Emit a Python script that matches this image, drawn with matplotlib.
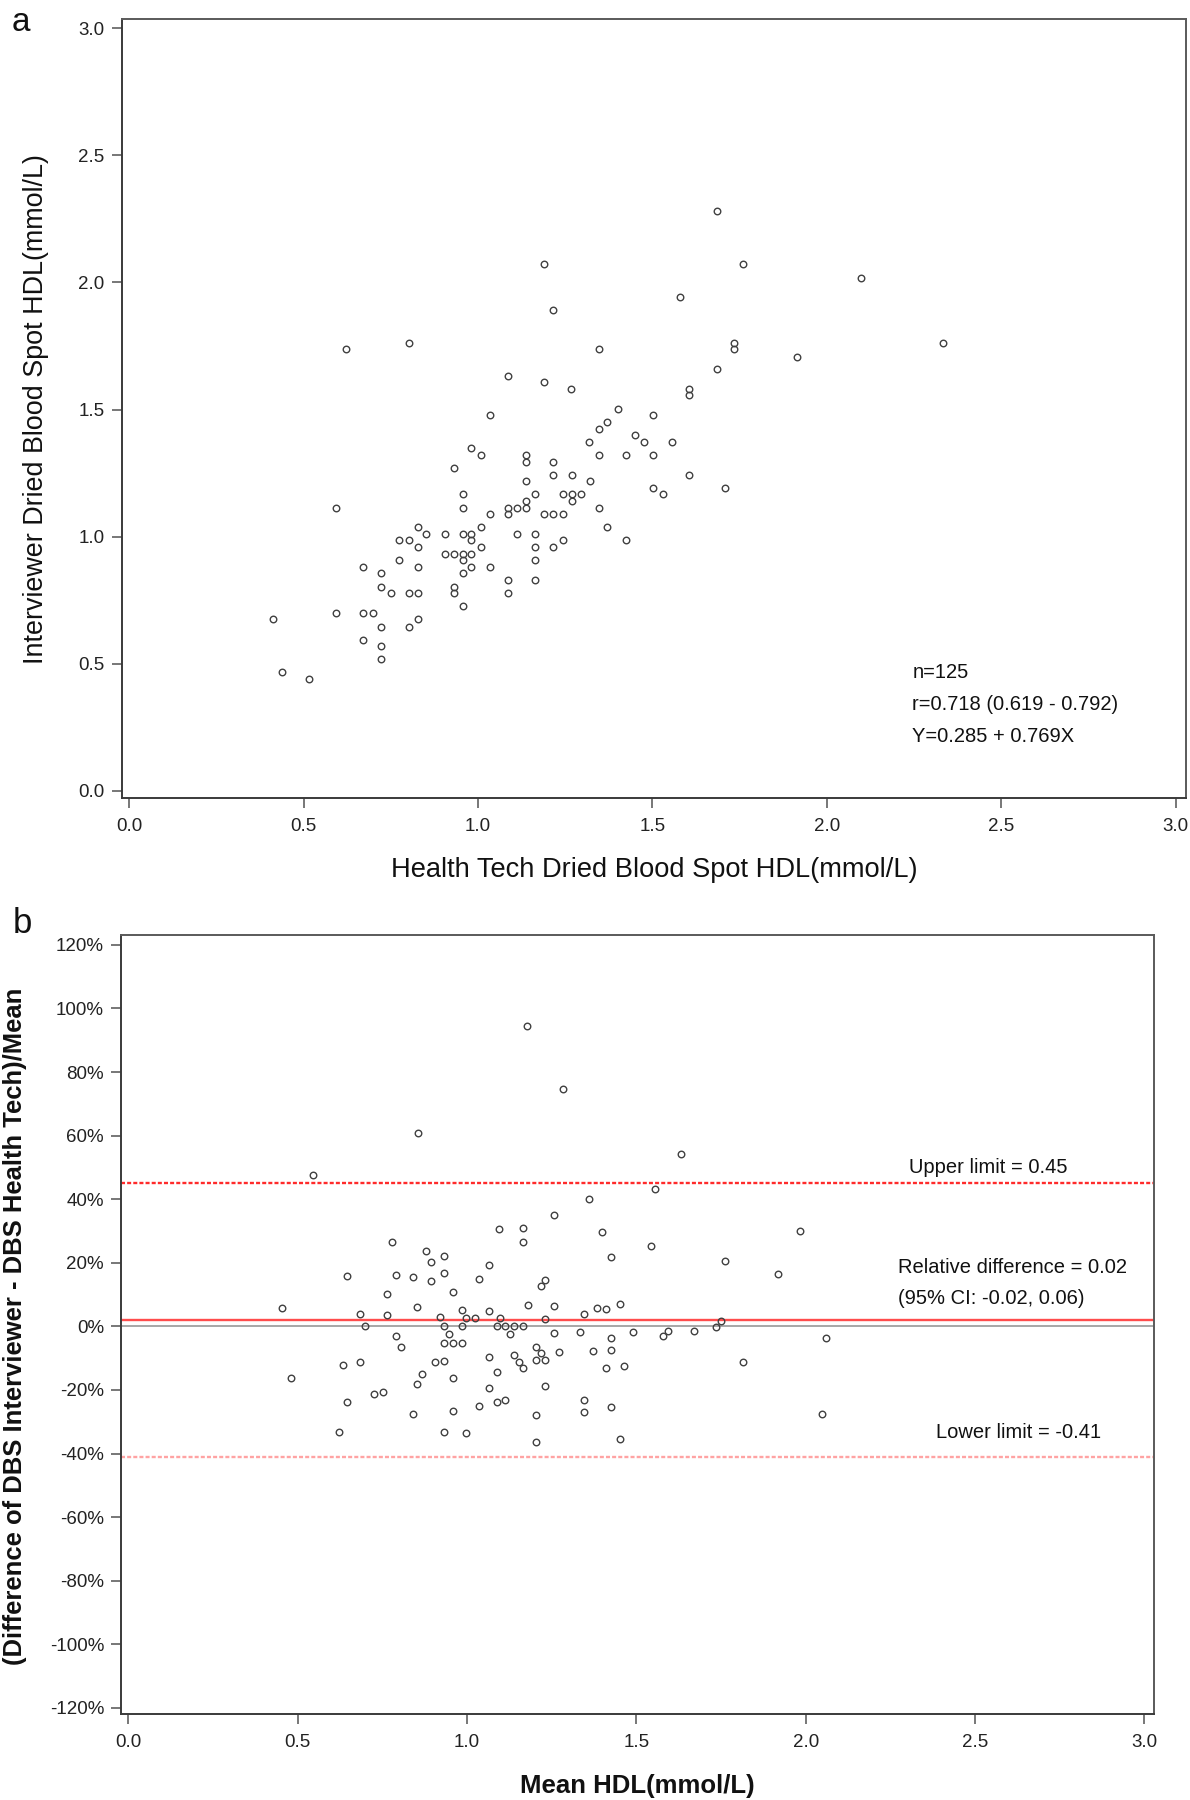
import matplotlib
matplotlib.use("Agg")
import matplotlib.pyplot as plt
from matplotlib.ticker import FuncFormatter, FixedLocator

plt.rcParams['font.family'] = ['Liberation Sans', 'DejaVu Sans']

# ---------------- data: panel a (scatter) ----------------
health_tech_hdl = [
    1.189, 1.215, 0.621, 0.801, 1.347, 1.085, 1.189, 1.268, 1.035, 1.319,
    0.981, 1.684, 1.760, 2.098, 1.579, 1.735, 1.735, 2.332, 1.915, 1.684,
    1.606, 1.606, 1.400, 1.501, 1.371, 1.347, 1.451, 1.476, 1.555, 1.347,
    1.425, 1.501, 1.270, 1.606, 1.322, 1.501, 1.530, 1.709, 1.245, 1.270,
    1.295, 1.270, 1.347, 1.245, 1.371, 1.245, 1.425, 1.009, 1.138, 1.138,
    1.215, 0.931, 1.215, 1.138, 0.956, 1.164, 1.138, 1.085, 1.112, 1.138,
    1.085, 0.956, 0.593, 1.035, 1.189, 1.215, 1.009, 0.827, 0.852, 0.905,
    0.956, 0.981, 1.112, 1.164, 0.775, 0.801, 0.981, 0.827, 1.009, 1.164,
    1.215, 0.905, 0.931, 0.956, 0.981, 0.775, 0.956, 1.164, 0.671, 0.827,
    0.981, 1.035, 0.722, 0.956, 1.085, 1.164, 0.722, 0.931, 0.750, 0.801,
    0.827, 0.931, 1.085, 0.956, 0.593, 0.671, 0.698, 0.412, 0.722, 0.801,
    0.827, 0.671, 0.722, 0.722, 0.438, 0.517,
]
interviewer_hdl = [
    2.072, 1.890, 1.737, 1.761, 1.737, 1.632, 1.608, 1.581, 1.478, 1.374,
    1.350, 2.280, 2.071, 2.018, 1.942, 1.761, 1.737, 1.761, 1.708, 1.659,
    1.581, 1.556, 1.503, 1.478, 1.451, 1.425, 1.398, 1.374, 1.374, 1.320,
    1.320, 1.320, 1.244, 1.244, 1.217, 1.190, 1.167, 1.190, 1.167, 1.167,
    1.167, 1.140, 1.114, 1.088, 1.038, 0.986, 0.986, 1.320, 1.320, 1.295,
    1.295, 1.268, 1.244, 1.217, 1.167, 1.167, 1.140, 1.114, 1.114, 1.114,
    1.088, 1.114, 1.114, 1.088, 1.088, 1.088, 1.038, 1.038, 1.010, 1.010,
    1.010, 1.010, 1.010, 1.010, 0.986, 0.986, 0.986, 0.958, 0.958, 0.958,
    0.958, 0.933, 0.933, 0.933, 0.933, 0.906, 0.906, 0.906, 0.881, 0.881,
    0.881, 0.881, 0.856, 0.856, 0.828, 0.828, 0.803, 0.803, 0.777, 0.777,
    0.777, 0.777, 0.777, 0.727, 0.699, 0.699, 0.699, 0.675, 0.646, 0.646,
    0.675, 0.594, 0.570, 0.517, 0.466, 0.440,
]
stats_lines = ["n=125", "r=0.718 (0.619 - 0.792)", "Y=0.285 + 0.769X"]

# ---------------- data: panel b (Bland-Altman, percent) ----------------
mean_hdl = [
    0.545, 0.854, 1.178, 1.282, 1.632, 1.094, 0.779, 0.879, 0.932, 0.894,
    1.064, 0.647, 0.790, 0.932, 0.841, 0.894, 1.036, 0.958, 0.764, 0.454,
    0.853, 0.984, 1.064, 0.685, 0.764, 0.919, 0.997, 1.024, 1.097, 0.700,
    0.932, 0.984, 1.088, 0.790, 0.946, 0.804, 0.932, 0.958, 0.984, 0.633,
    0.685, 0.906, 0.932, 1.064, 0.479, 0.867, 0.853, 0.958, 1.088, 1.064,
    0.725, 0.752, 0.647, 1.088, 1.036, 0.958, 0.841, 0.621, 0.932, 0.997,
    1.555, 1.359, 1.258, 1.165, 1.165, 1.399, 1.542, 1.425, 1.231, 1.218,
    1.179, 1.258, 1.385, 1.411, 1.452, 1.346, 1.231, 1.113, 1.139, 1.165,
    1.127, 1.258, 1.333, 1.425, 1.490, 1.578, 1.593, 1.670, 1.205, 1.218,
    1.205, 1.231, 1.271, 1.372, 1.425, 1.139, 1.153, 1.165, 1.411, 1.464,
    1.231, 1.113, 1.346, 1.346, 1.425, 1.205, 1.205, 1.452, 1.982, 1.763,
    1.917, 1.736, 1.750, 2.061, 1.815, 2.048,
]
rel_diff_pct = [
    47.6, 60.7, 94.6, 74.8, 54.2, 30.6, 26.7, 23.7, 22.2, 20.2,
    19.4, 16.0, 16.2, 16.7, 15.5, 14.4, 15.0, 10.8, 10.3, 5.8,
    6.1, 5.3, 5.0, 4.0, 3.6, 3.0, 2.7, 2.7, 2.5, 0.0,
    0.0, 0.0, 0.0, -3.0, -2.5, -6.5, -5.3, -5.3, -5.1, -12.1,
    -11.2, -11.2, -11.0, -9.5, -16.3, -14.9, -18.1, -16.3, -14.3, -19.3,
    -21.2, -20.7, -23.7, -23.7, -25.0, -26.7, -27.7, -33.3, -33.3, -33.6,
    43.3, 40.1, 35.0, 31.1, 26.7, 29.8, 25.4, 21.9, 14.7, 12.7,
    6.6, 6.3, 5.8, 5.5, 7.1, 3.8, 2.2, 0.0, 0.0, 0.0,
    -2.3, -2.0, -1.8, -3.7, -1.8, -3.1, -1.5, -1.5, -6.4, -8.5,
    -10.7, -10.5, -8.2, -7.7, -7.3, -9.0, -11.2, -13.2, -13.0, -12.4,
    -18.8, -23.2, -23.0, -26.8, -25.4, -28.0, -36.3, -35.5, 30.1, 20.5,
    16.4, -0.1, 1.6, -3.8, -11.3, -27.7,
]
upper_limit = 45
mean_rel_diff = 2
lower_limit = -41
upper_text = "Upper limit = 0.45"
mean_text = ["Relative difference = 0.02", "(95% CI: -0.02, 0.06)"]
lower_text = "Lower limit = -0.41"

x_ticks = [0.0, 0.5, 1.0, 1.5, 2.0, 2.5, 3.0]
y_ticks_a = [0.0, 0.5, 1.0, 1.5, 2.0, 2.5, 3.0]
y_ticks_b = list(range(-120, 121, 20))

# ---------------- figure ----------------
W, H = 1190, 1800
fig = plt.figure(figsize=(W / 100, H / 100), dpi=100)


def ax_rect(l, r, t, b):
    return [l / W, 1 - b / H, (r - l) / W, (b - t) / H]


def style_axes(ax):
    for side in ['left', 'bottom', 'top', 'right']:
        ax.spines[side].set_linewidth(1.4)
    ax.spines['left'].set_color('#3a3a3a')
    ax.spines['bottom'].set_color('#3a3a3a')
    ax.spines['top'].set_color('#5a5a5a')
    ax.spines['right'].set_color('#5a5a5a')
    ax.tick_params(axis='both', direction='out', length=7.5, width=1.2,
                   color='#606060', labelcolor='#222222', labelsize=13.5)
    ax.tick_params(axis='y', pad=5)
    ax.tick_params(axis='x', pad=7)


marker_kw = dict(ls='none', marker='o', ms=4.7, mfc='none', mec='#404040', mew=1.0, zorder=3)

# panel a
ax1 = fig.add_axes(ax_rect(121.7, 1186, 19, 797.7))
ax1.plot(health_tech_hdl, interviewer_hdl, **marker_kw)
ax1.set_xlim(-0.021, 3.029)
ax1.set_ylim(-0.0275, 3.0366)
ax1.xaxis.set_major_locator(FixedLocator(x_ticks))
ax1.yaxis.set_major_locator(FixedLocator(y_ticks_a))
ax1.xaxis.set_major_formatter(FuncFormatter(lambda v, p: f"{v:.1f}"))
ax1.yaxis.set_major_formatter(FuncFormatter(lambda v, p: f"{v:.1f}"))
style_axes(ax1)
for txt, yb in zip(stats_lines, [0.442, 0.318, 0.193]):
    ax1.text(2.245, yb, txt, fontsize=14.5, va='baseline', ha='left', color='#111111')

# panel b
ax2 = fig.add_axes(ax_rect(121.4, 1153.6, 935, 1714))
ax2.axhline(0, color='#a0a0a0', lw=1.3, zorder=1)
ax2.axhline(mean_rel_diff, color='#ff4d4d', lw=1.7, zorder=2)
ax2.axhline(upper_limit, color='#ff2b2b', lw=1.7, ls=(0, (1.7, 0.9)), zorder=2)
ax2.axhline(lower_limit, color='#ffa3a3', lw=1.7, ls=(0, (1.7, 0.9)), zorder=2)
ax2.plot(mean_hdl, rel_diff_pct, **marker_kw)
ax2.set_xlim(-0.0204, 3.027)
ax2.set_ylim(-121.9, 123.1)
ax2.xaxis.set_major_locator(FixedLocator(x_ticks))
ax2.yaxis.set_major_locator(FixedLocator(y_ticks_b))
ax2.xaxis.set_major_formatter(FuncFormatter(lambda v, p: f"{v:.1f}"))
ax2.yaxis.set_major_formatter(FuncFormatter(lambda v, p: f"{v:.0f}%"))
style_axes(ax2)
ax2.text(2.304, 48.3, upper_text, fontsize=14.5, va='baseline', ha='left', color='#111111')
ax2.text(2.271, 16.9, mean_text[0], fontsize=14.5, va='baseline', ha='left', color='#111111')
ax2.text(2.271, 7.2, mean_text[1], fontsize=14.5, va='baseline', ha='left', color='#111111')
ax2.text(2.384, -35.2, lower_text, fontsize=14.5, va='baseline', ha='left', color='#111111')

# axis labels (placed as figure text, sized to the reference lengths)
lab_a_x = fig.text(654 / W, 1 - 870 / H, "Health Tech Dried Blood Spot HDL(mmol/L)",
                   ha='center', va='center', fontsize=17, color='#111111')
lab_a_y = fig.text(36 / W, 1 - 409.5 / H, "Interviewer Dried Blood Spot HDL(mmol/L)",
                   ha='center', va='center', rotation=90, fontsize=17, color='#111111')
lab_b_x = fig.text(637.5 / W, 1 - 1785.7 / H, "Mean HDL(mmol/L)",
                   ha='center', va='center', fontsize=18, fontweight='bold', color='#111111')
lab_b_y = fig.text(15 / W, 1 - 1326 / H, "(Difference of DBS Interviewer - DBS Health Tech)/Mean",
                   ha='center', va='center', rotation=90, fontsize=17, fontweight='bold',
                   color='#111111')

fig.text(12 / W, 1 - 31 / H, "a", fontsize=24, va='baseline', ha='left', color='#111111')
fig.text(13 / W, 1 - 933 / H, "b", fontsize=25, va='baseline', ha='left', color='#111111')

fig.canvas.draw()
renderer = fig.canvas.get_renderer()
for t, target, vertical in [(lab_a_x, 527, False), (lab_a_y, 511, True),
                            (lab_b_x, 235, False), (lab_b_y, 678, True)]:
    bb = t.get_window_extent(renderer)
    cur = bb.height if vertical else bb.width
    t.set_fontsize(t.get_fontsize() * target / cur)

fig.savefig("out.png", dpi=100, facecolor='white')
